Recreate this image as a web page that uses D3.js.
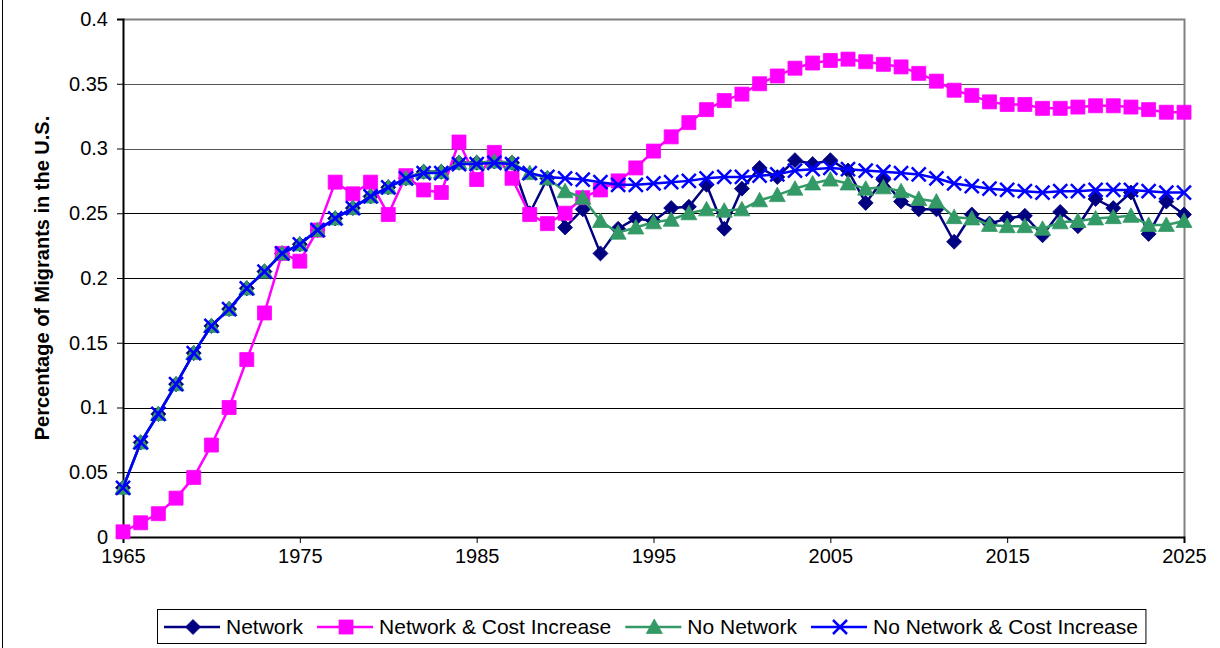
<!DOCTYPE html>
<html>
<head>
<meta charset="utf-8">
<script src="https://cdn.jsdelivr.net/npm/d3@7"></script>
<style>
  html, body { margin: 0; padding: 0; background: #fff; }
  svg { display: block; font-family: "Liberation Sans", Arial, sans-serif; }
</style>
</head>
<body>
<svg id="chart" width="1220" height="648"></svg>
<script>
// Simulated share of migrants living in the U.S., 1965-2025, under four scenarios.
const years = d3.range(1965, 2026);

const network = [
  0.038, 0.073, 0.095, 0.118, 0.142, 0.163, 0.176, 0.192, 0.205, 0.219,
  0.226, 0.237, 0.246, 0.254, 0.263, 0.270, 0.277, 0.282, 0.282, 0.289,
  0.289, 0.290, 0.289, 0.250, 0.277, 0.239, 0.253, 0.219, 0.238, 0.246,
  0.244, 0.254, 0.255, 0.272, 0.238, 0.269, 0.285, 0.278, 0.291, 0.288,
  0.291, 0.283, 0.258, 0.276, 0.259, 0.253, 0.253, 0.228, 0.249, 0.242,
  0.246, 0.248, 0.233, 0.251, 0.240, 0.261, 0.254, 0.266, 0.234, 0.259,
  0.249
];

const networkCost = [
  0.004, 0.011, 0.018, 0.030, 0.046, 0.071, 0.100, 0.137, 0.173, 0.219,
  0.213, 0.237, 0.274, 0.265, 0.274, 0.249, 0.279, 0.268, 0.266, 0.305,
  0.276, 0.297, 0.277, 0.249, 0.242, 0.250, 0.262, 0.268, 0.275, 0.285,
  0.298, 0.309, 0.320, 0.330, 0.337, 0.342, 0.350, 0.356, 0.362, 0.366,
  0.368, 0.369, 0.367, 0.365, 0.363, 0.358, 0.352, 0.345, 0.341, 0.336,
  0.334, 0.334, 0.331, 0.331, 0.332, 0.333, 0.333, 0.332, 0.330, 0.328,
  0.328
];

const noNetwork = [
  0.038, 0.073, 0.095, 0.118, 0.142, 0.163, 0.176, 0.192, 0.205, 0.219,
  0.226, 0.237, 0.246, 0.254, 0.263, 0.270, 0.277, 0.282, 0.282, 0.289,
  0.289, 0.290, 0.289, 0.281, 0.277, 0.267, 0.262, 0.244, 0.235, 0.239,
  0.243, 0.245, 0.250, 0.253, 0.252, 0.253, 0.260, 0.264, 0.269, 0.273,
  0.276, 0.273, 0.269, 0.270, 0.267, 0.261, 0.259, 0.247, 0.246, 0.241,
  0.240, 0.240, 0.238, 0.243, 0.244, 0.246, 0.247, 0.248, 0.241, 0.241,
  0.244
];

const noNetworkCost = [
  0.038, 0.073, 0.095, 0.118, 0.142, 0.163, 0.176, 0.192, 0.205, 0.219,
  0.226, 0.237, 0.246, 0.254, 0.263, 0.270, 0.277, 0.281, 0.281, 0.288,
  0.288, 0.289, 0.288, 0.281, 0.278, 0.277, 0.276, 0.274, 0.272, 0.272,
  0.273, 0.274, 0.275, 0.277, 0.278, 0.278, 0.279, 0.280, 0.283, 0.284,
  0.285, 0.284, 0.283, 0.282, 0.281, 0.280, 0.277, 0.273, 0.271, 0.269,
  0.268, 0.267, 0.266, 0.267, 0.267, 0.268, 0.268, 0.268, 0.267, 0.266,
  0.266
];

const seriesNames = ["Network", "Network & Cost Increase", "No Network", "No Network & Cost Increase"];
const seriesColors = ["#000080", "#FF00FF", "#339966", "#0000FF"];
const seriesMarkers = ["diamond", "square", "triangle", "cross"];
const seriesValues = [network, networkCost, noNetwork, noNetworkCost];

const xTicks = [1965, 1975, 1985, 1995, 2005, 2015, 2025];
const yTicks = [0, 0.05, 0.1, 0.15, 0.2, 0.25, 0.3, 0.35, 0.4];
const yTitle = "Percentage of Migrants in the U.S.";

const svg = d3.select("#chart");
const plot = { left: 123, right: 1184, top: 19, bottom: 537 };

const x = d3.scaleLinear().domain([1965, 2025]).range([plot.left, plot.right]);
const y = d3.scaleLinear().domain([0, 0.4]).range([plot.bottom, plot.top]);

// outer chart frame (left edge)
svg.append("line")
  .attr("x1", 2.5).attr("x2", 2.5).attr("y1", 0).attr("y2", 648)
  .attr("stroke", "#000").attr("stroke-width", 1);

// horizontal gridlines
svg.append("g")
  .selectAll("line")
  .data(yTicks.filter(d => d > 0 && d < 0.4))
  .join("line")
  .attr("x1", plot.left).attr("x2", plot.right)
  .attr("y1", d => Math.round(y(d)) + 0.5).attr("y2", d => Math.round(y(d)) + 0.5)
  .attr("stroke", d => d >= 0.3 ? "#555" : "#000").attr("stroke-width", 1);

// plot area border (top and right)
svg.append("path")
  .attr("d", `M${plot.left},${plot.top + 0.5}H${plot.right + 0.5}V${plot.bottom}`)
  .attr("fill", "none").attr("stroke", "#808080").attr("stroke-width", 2);

// y axis
const yAxis = d3.axisLeft(y).tickValues(yTicks).tickSize(6).tickPadding(9)
  .tickFormat(d => d3.format("")(+d.toFixed(2)));
const gy = svg.append("g").attr("transform", `translate(${plot.left},0)`).call(yAxis);
gy.select(".domain").attr("stroke", "#000").attr("stroke-width", 2);
gy.selectAll(".tick line").attr("stroke", "#000");
gy.selectAll(".tick text").attr("font-size", 20).attr("fill", "#000")
  .attr("font-family", "Liberation Sans, Arial, sans-serif");

// x axis
const xAxis = d3.axisBottom(x).tickValues(xTicks).tickSize(6).tickPadding(6)
  .tickFormat(d3.format("d"));
const gx = svg.append("g").attr("transform", `translate(0,${plot.bottom})`).call(xAxis);
gx.select(".domain").attr("stroke", "#000").attr("stroke-width", 2);
gx.selectAll(".tick line").attr("stroke", "#000");
gx.selectAll(".tick text").attr("font-size", 20).attr("fill", "#000")
  .attr("font-family", "Liberation Sans, Arial, sans-serif");

// y axis title
svg.append("text")
  .attr("transform", `translate(49,${(plot.top + plot.bottom) / 2}) rotate(-90)`)
  .attr("text-anchor", "middle")
  .attr("font-size", 20).attr("font-weight", "bold")
  .text(yTitle);

// marker shapes
function markerPath(type) {
  switch (type) {
    case "diamond": return "M0,-7.5L7.5,0L0,7.5L-7.5,0Z";
    case "square": return "M-7,-7H7V7H-7Z";
    case "triangle": return "M0,-8L8,6.5L-8,6.5Z";
    case "cross": return "M-7,-7L7,7M-7,7L7,-7";
  }
}
function drawMarker(g, type, color) {
  const p = g.append("path").attr("d", markerPath(type));
  if (type === "cross") {
    p.attr("fill", "none").attr("stroke", color).attr("stroke-width", 2.5);
  } else {
    p.attr("fill", color).attr("stroke", color).attr("stroke-width", 0.8);
  }
  return p;
}

const line = d3.line().x((d, i) => x(years[i])).y(d => y(d));

seriesValues.forEach((vals, s) => {
  const g = svg.append("g");
  g.append("path")
    .datum(vals)
    .attr("d", line)
    .attr("fill", "none")
    .attr("stroke", seriesColors[s])
    .attr("stroke-width", 2.5)
    .attr("stroke-linejoin", "round");
  vals.forEach((v, i) => {
    const m = g.append("g").attr("transform", `translate(${x(years[i])},${y(v)})`);
    drawMarker(m, seriesMarkers[s], seriesColors[s]);
  });
});

// legend
const legend = svg.append("g");
const legendBox = legend.append("rect")
  .attr("x", 157.5).attr("y", 609.5).attr("height", 34)
  .attr("fill", "#fff").attr("stroke", "#000").attr("stroke-width", 1);
let lx = 164;
const ly = 627;
seriesNames.forEach((name, s) => {
  const item = legend.append("g");
  item.append("line")
    .attr("x1", lx).attr("x2", lx + 56).attr("y1", ly).attr("y2", ly)
    .attr("stroke", seriesColors[s]).attr("stroke-width", 2.5);
  const m = item.append("g").attr("transform", `translate(${lx + 29},${ly})`);
  drawMarker(m, seriesMarkers[s], seriesColors[s]);
  const t = item.append("text")
    .attr("x", lx + 62).attr("y", ly + 7)
    .attr("font-size", 21)
    .text(name);
  lx = lx + 62 + t.node().getComputedTextLength() + 14;
});
legendBox.attr("width", lx - 14 + 8 - 157.5);
</script>
</body>
</html>
